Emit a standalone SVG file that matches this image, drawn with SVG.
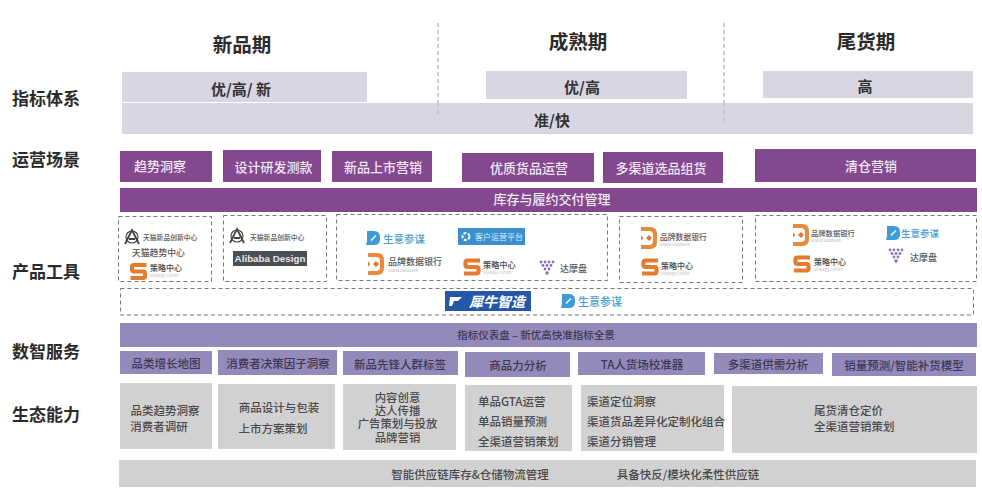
<svg xmlns="http://www.w3.org/2000/svg" width="982" height="490" viewBox="0 0 982 490">
<style>
text{font-family:"Noto Sans CJK SC","Noto Sans",sans-serif;text-anchor:middle;dominant-baseline:central}
.title{font-size:19.500px;font-weight:700;fill:#2b2b2b}
.side{font-size:17px;font-weight:700;fill:#2b2b2b}
.lav{fill:#d9d6e4}.pur{fill:#84488f}.vio{fill:#9389bb}.gry{fill:#d2d1d2}
.b{font-size:15px;font-weight:700;fill:#333}
.w{font-size:13px;font-weight:500;fill:#f1e8f3}
.v{font-size:11.500px;font-weight:500;fill:#3c3850}
.g{font-size:11.500px;font-weight:500;fill:#4a4a4a}
text.tight{font-family:"Liberation Sans","Noto Sans CJK SC",sans-serif;font-size:11.400px}
.l{text-anchor:start}
.dash{fill:none;stroke:#77777b;stroke-width:1;stroke-dasharray:4 3}
.vd{fill:none;stroke:#9a9a9e;stroke-width:1;stroke-dasharray:4 3}
.lg{font-size:9px;font-weight:500;fill:#555;text-anchor:start}
.sub{font-size:4px;fill:#bbb;text-anchor:start}
.sy{font-size:10.500px;font-weight:500;fill:#4a9fd0;text-anchor:start}
</style>
<defs>
<g id="slogo" fill="none" stroke="#e57b2f" stroke-width="4.200" stroke-linejoin="round">
<path d="M8-6.500H-4.500Q-6.500-6.500-6.500-4.500V-2Q-6.500 0-4.500 0H4.500Q6.500 0 6.500 2V4.500Q6.500 6.500 4.500 6.500H-8"/>
</g>
<g id="dlogo">
<path d="M-8-11H1Q8-11 8-4V4Q8 11 1 11H-8V7H0Q4 7 4 3V-3Q4-7 0-7H-8Z" fill="#e88a3c"/>
<path d="M-8-2.500L-5.500 0L-8 2.500Z M-3 0L0-3L3 0L0 3Z" fill="#e5762a"/>
</g>
<g id="alogo" fill="none" stroke="#444" stroke-width="1.200">
<circle r="6"/><path d="M-7 7L0-7L7 7M-3 2H3" stroke-width="1.800"/>
</g>
<g id="bubble">
<path d="M-6-7H1Q7-7 7-1V1Q7 7 1 7H-7L-6 3Z" fill="#3f9bd6"/>
<path d="M-2 2.500L3-2.500" stroke="#fff" stroke-width="1.500"/>
</g>
<g id="grape" fill="#8a72b4">
<circle cx="-6" cy="-6" r="1.400"/><circle cx="-2" cy="-6" r="1.400"/><circle cx="2" cy="-6" r="1.400"/><circle cx="6" cy="-6" r="1.400"/>
<circle cx="-4" cy="-2.500" r="1.400"/><circle cy="-2.500" r="1.400"/><circle cx="4" cy="-2.500" r="1.400"/>
<circle cx="-2" cy="1" r="1.400"/><circle cx="2" cy="1" r="1.400"/>
<circle cy="5" r="1.800"/>
</g>
</defs>

<g id="connectors">
<path class="vd" d="M438 23V116"/>
<path class="vd" d="M724 23V122"/>
</g>

<g id="side-labels">
<text class="side" x="46" y="97">指标体系</text>
<text class="side" x="46" y="158">运营场景</text>
<text class="side" x="46" y="270">产品工具</text>
<text class="side" x="46" y="350">数智服务</text>
<text class="side" x="46" y="413">生态能力</text>
</g>

<g id="stage-titles">
<text class="title" x="242" y="43">新品期</text>
<text class="title" x="578" y="40">成熟期</text>
<text class="title" x="866" y="40">尾货期</text>
</g>

<g id="metrics">
<rect class="lav" x="122" y="103" width="851" height="31"/>
<path class="vd" d="M438 103V116M724 103V122" opacity=".6"/>
<g id="m-new"><rect class="lav" x="122" y="72" width="245" height="30"/><text class="b" x="241" y="88">优/高/ 新</text></g>
<g id="m-mature"><rect class="lav" x="486" y="71" width="201" height="28"/><text class="b" x="582" y="86">优/高</text></g>
<g id="m-tail"><rect class="lav" x="763" y="71" width="210" height="27"/><text class="b" x="865" y="85">高</text></g>
<text class="b" x="552" y="119">准/快</text>
</g>

<g id="scenes">
<g id="s1"><rect class="pur" x="120" y="151" width="92" height="31"/><text class="w" x="160" y="165.500">趋势洞察</text></g>
<g id="s2"><rect class="pur" x="223" y="150" width="98" height="32"/><text class="w" x="273.500" y="166.500">设计研发测款</text></g>
<g id="s3"><rect class="pur" x="332" y="151" width="100" height="31"/><text class="w" x="383" y="166.500">新品上市营销</text></g>
<g id="s4"><rect class="pur" x="462" y="153" width="132" height="29"/><text class="w" x="529" y="167.500">优质货品运营</text></g>
<g id="s5"><rect class="pur" x="603" y="152" width="120" height="31"/><text class="w" x="661" y="167.500">多渠道选品组货</text></g>
<g id="s6"><rect class="pur" x="755" y="149" width="221" height="33"/><text class="w" x="871" y="165.500">清仓营销</text></g>
<g id="s7"><rect class="pur" x="120" y="188" width="857" height="24"/><text class="w" x="552" y="198.500">库存与履约交付管理</text></g>
</g>

<g id="tools">
<g id="t1"><rect class="dash" x="118.500" y="216.500" width="93" height="65"/>
<use href="#alogo" x="132" y="237"/><text class="lg" x="143" y="237" style="font-size:6.800px">天猫新品创新中心</text>
<text class="lg" x="132" y="252" style="font-size:8.800px">天猫趋势中心</text>
<use href="#slogo" x="138.500" y="271.500"/><text class="lg" x="150" y="267" style="font-size:8px;fill:#444">策略中心</text><text class="sub" x="150" y="275">Strategy Center</text></g>

<g id="t2"><rect class="dash" x="223.500" y="215.500" width="103" height="66"/>
<use href="#alogo" x="237" y="236"/><text class="lg" x="250" y="237" style="font-size:6.800px">天猫新品创新中心</text>
<rect x="233" y="251" width="74" height="15" fill="#4a4f55"/>
<text x="270" y="258" style="font-family:'Liberation Sans',sans-serif;font-size:9.800px;font-weight:700;fill:#e8e8e8">Alibaba Design</text></g>

<g id="t3"><rect class="dash" x="336.500" y="214.500" width="271" height="66"/>
<use href="#bubble" x="373" y="238"/><text class="sy" x="383" y="238">生意参谋</text>
<rect x="458" y="228" width="67" height="17" fill="#3a8fd0"/>
<circle cx="466" cy="236.500" r="3.500" fill="none" stroke="#fff" stroke-width="2" stroke-dasharray="3 1.500"/>
<text x="499" y="236.500" style="font-size:8px;fill:#dcecf8">客户运营平台</text>
<use href="#dlogo" x="376" y="264"/><text class="lg" x="388" y="261">品牌数据银行</text><text class="sub" x="388" y="270">Brand Databank</text>
<use href="#slogo" x="472" y="267"/><text class="lg" x="483" y="264" style="font-size:8.200px;fill:#444">策略中心</text><text class="sub" x="483" y="272">Strategy Center</text>
<use href="#grape" x="547" y="268"/><text class="lg" x="560" y="268">达摩盘</text></g>

<g id="t4"><rect class="dash" x="619.500" y="216.500" width="123" height="66"/>
<use href="#dlogo" x="649" y="238"/><text class="lg" x="660" y="236" style="font-size:7.800px">品牌数据银行</text><text class="sub" x="660" y="243.500">Brand Databank</text>
<use href="#slogo" x="650" y="267"/><text class="lg" x="661" y="265" style="font-size:8px;fill:#444">策略中心</text><text class="sub" x="661" y="272.500">Strategy Center</text></g>

<g id="t5"><rect class="dash" x="755.500" y="215.500" width="221" height="66"/>
<use href="#dlogo" x="801" y="235"/><text class="lg" x="811" y="233" style="font-size:7.300px">品牌数据银行</text><text class="sub" x="811" y="240">Brand Databank</text>
<use href="#bubble" x="893" y="233"/><text class="sy" x="901" y="233" style="font-size:9.500px">生意参谋</text>
<use href="#slogo" x="802" y="264"/><text class="lg" x="814" y="261" style="font-size:8px;fill:#444">策略中心</text><text class="sub" x="814" y="269">Strategy Center</text>
<use href="#grape" x="896" y="256"/><text class="lg" x="910" y="257">达摩盘</text></g>

<g id="t6"><rect class="dash" x="120.500" y="288.500" width="853" height="26.500"/>
<rect x="445" y="291" width="86" height="20" fill="#2458a6"/>
<path d="M450 297H462L458 301H454L452 306H449Z" fill="#fff"/>
<text x="497" y="300.500" style="font-size:14px;font-weight:700;font-style:italic;fill:#fff">犀牛智造</text>
<use href="#bubble" x="568" y="301"/><text class="sy" x="578" y="301" style="font-size:11px">生意参谋</text></g>
</g>

<g id="services">
<g id="d0"><rect class="vio" x="120" y="323" width="857" height="24"/><text class="v" x="536" y="334.500" style="font-size:10.500px">指标仪表盘 – 新优高快准指标全景</text></g>
<g id="d1"><rect class="vio" x="120" y="351" width="92" height="23"/><text class="v" x="166" y="362.500">品类增长地图</text></g>
<g id="d2"><rect class="vio" x="218" y="350" width="119" height="25"/><text class="v" x="278" y="362.500">消费者决策因子洞察</text></g>
<g id="d3"><rect class="vio" x="343" y="351" width="115" height="24"/><text class="v" x="400" y="363.500">新品先锋人群标签</text></g>
<g id="d4"><rect class="vio" x="465" y="352" width="105" height="25"/><text class="v" x="518" y="364.500">商品力分析</text></g>
<g id="d5"><rect class="vio" x="578" y="352" width="127" height="23"/><text class="v" x="642" y="363.500">TA人货场校准器</text></g>
<g id="d6"><rect class="vio" x="714" y="353" width="109" height="21"/><text class="v" x="768" y="363.500">多渠道供需分析</text></g>
<g id="d7"><rect class="vio" x="832" y="353" width="144" height="23"/><text class="v" x="904" y="364.500">销量预测/智能补货模型</text></g>
</g>

<g id="ecosystem">
<g id="e1"><rect class="gry" x="120" y="383" width="92" height="66"/><text class="g" x="165" y="410">品类趋势洞察</text><text class="g" x="159" y="425.500">消费者调研</text></g>
<g id="e2"><rect class="gry" x="218" y="384" width="117" height="65"/><text class="g" x="279" y="406.500">商品设计与包装</text><text class="g" x="273" y="427.500">上市方案策划</text></g>
<g id="e3"><rect class="gry" x="343" y="384" width="113" height="66"/><text class="g tight" x="397.500" y="397.500">内容创意</text><text class="g tight" x="397.500" y="410.900">达人传播</text><text class="g tight" x="397.500" y="424.300">广告策划与投放</text><text class="g tight" x="397.500" y="437.700">品牌营销</text></g>
<g id="e4"><rect class="gry" x="465" y="385" width="107" height="66"/><text class="g l" x="478" y="400.500">单品GTA运营</text><text class="g l" x="478" y="420.500">单品销量预测</text><text class="g l" x="478" y="441">全渠道营销策划</text></g>
<g id="e5"><rect class="gry" x="581" y="385" width="143" height="66"/><text class="g l" x="587" y="400.500">渠道定位洞察</text><text class="g l" x="587" y="420.500">渠道货品差异化定制化组合</text><text class="g l" x="587" y="441">渠道分销管理</text></g>
<g id="e6"><rect class="gry" x="732" y="386" width="245" height="67"/><text class="g l" x="814" y="410">尾货清仓定价</text><text class="g l" x="814" y="425.500">全渠道营销策划</text></g>
<g id="e7"><rect class="gry" x="119" y="460" width="857" height="27"/><text class="g" x="470" y="473.500">智能供应链库存&amp;仓储物流管理</text><text class="g" x="688" y="473.500">具备快反/模块化柔性供应链</text></g>
</g>
</svg>
